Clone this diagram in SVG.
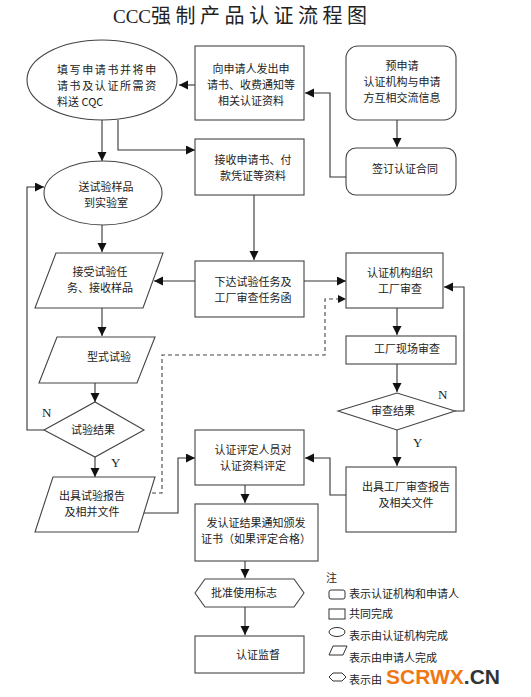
<svg xmlns="http://www.w3.org/2000/svg" width="531" height="697" viewBox="0 0 531 697">
<defs>
<marker id="ah" markerUnits="userSpaceOnUse" markerWidth="10" markerHeight="10" refX="9" refY="4.5" orient="auto">
<path d="M0,0 L9,4.5 L0,9 z" fill="#111"/>
</marker>
<style>
.n{fill:#fff;stroke:#444;stroke-width:1.1}
.t{font-family:"Noto Sans CJK SC","Liberation Sans",sans-serif;font-size:11px;fill:#222;text-anchor:middle}
.tl{font-family:"Noto Sans CJK SC","Liberation Sans",sans-serif;font-size:11px;fill:#222}
.yn{font-family:"Liberation Serif",serif;font-size:13px;fill:#222}
.c{fill:none;stroke:#333;stroke-width:1.1}
.ca{fill:none;stroke:#333;stroke-width:1.1;marker-end:url(#ah)}
.d{fill:none;stroke:#444;stroke-width:1.1;stroke-dasharray:4,3}
.lg{fill:#fff;stroke:#333;stroke-width:1}
</style>
</defs>
<rect width="531" height="697" fill="#fff"/>
<text x="113" y="23" font-family="Liberation Serif,serif" font-size="19" fill="#222">CCC<tspan font-family="Noto Sans CJK SC,sans-serif" font-size="20" letter-spacing="4.5">强制产品认证流程图</tspan></text>

<g id="connectors">
<path class="ca" d="M195,85 L179,85"/>
<path class="ca" d="M397,120 L397,147"/>
<path class="ca" d="M346,177 L330,177 L330,93 L305,93"/>
<path class="ca" d="M102,120 L102,161"/>
<path class="ca" d="M118,120 L118,150 L195,150"/>
<path class="ca" d="M254,195 L254,260"/>
<path class="ca" d="M102,225 L102,252"/>
<path class="ca" d="M195,281 L154,281"/>
<path class="ca" d="M304,281 L346,281"/>
<path class="ca" d="M102,308 L102,336"/>
<path class="ca" d="M95,383 L95,402"/>
<path class="ca" d="M44,430 L27,430 L27,187 L44,187"/>
<path class="ca" d="M95,457 L95,477"/>
<path class="ca" d="M139,513 L178,513 L178,458 L195,458"/>
<path class="d" d="M152,493 L162,493 L162,355 L325,355 L325,299 L338,299"/>
<path d="M338,295 L346,299 L338,303 z" fill="#111"/>
<path class="ca" d="M397,308 L397,335"/>
<path class="ca" d="M397,364 L397,392"/>
<path class="ca" d="M455,411 L464,411 L464,287 L444,287"/>
<path class="ca" d="M397,430 L397,466"/>
<path class="ca" d="M346,495 L330,495 L330,458 L305,458"/>
<path class="ca" d="M245,485 L245,503"/>
<path class="ca" d="M245,561 L245,578"/>
<path class="ca" d="M245,607 L245,635"/>
</g>

<g id="n1"><ellipse class="n" cx="102" cy="80" rx="75" ry="40"/>
<text class="tl" x="57" y="74" letter-spacing="1.6">填写申请书并将申</text>
<text class="tl" x="57" y="90" letter-spacing="1.6">请书及认证所需资</text>
<text class="tl" x="57" y="106">料送 CQC</text></g>

<g id="n2"><rect class="n" x="195" y="46" width="109" height="74"/>
<text class="t" x="251" y="73">向申请人发出申</text>
<text class="t" x="251" y="89">请书、收费通知等</text>
<text class="t" x="251" y="105">相关认证资料</text></g>

<g id="n3"><rect class="n" x="346" y="46" width="110" height="74" rx="12"/>
<text class="t" x="402" y="70">预申请</text>
<text class="t" x="402" y="86">认证机构与申请</text>
<text class="t" x="402" y="102">方互相交流信息</text></g>

<g id="n4"><rect class="n" x="346" y="148" width="110" height="47" rx="10"/>
<text class="t" x="405" y="173">签订认证合同</text></g>

<g id="n6"><rect class="n" x="195" y="139" width="109" height="56"/>
<text class="t" x="253" y="164">接收申请书、付</text>
<text class="t" x="253" y="180">款凭证等资料</text></g>

<g id="n5"><ellipse class="n" cx="103" cy="193" rx="59" ry="32"/>
<text class="t" x="106" y="191">送试验样品</text>
<text class="t" x="106" y="207">到实验室</text></g>

<g id="n7"><polygon class="n" points="56,253 163,253 143,308 35,308"/>
<text class="t" x="100" y="276">接受试验任</text>
<text class="t" x="100" y="292">务、接收样品</text></g>

<g id="n8"><rect class="n" x="195" y="261" width="109" height="56"/>
<text class="t" x="253" y="286">下达试验任务及</text>
<text class="t" x="253" y="302">工厂审查任务函</text></g>

<g id="n9"><rect class="n" x="346" y="253" width="97" height="55"/>
<text class="t" x="400" y="277">认证机构组织</text>
<text class="t" x="400" y="293">工厂审查</text></g>

<g id="n10"><rect class="n" x="346" y="336" width="110" height="28"/>
<text class="t" x="407" y="353">工厂现场审查</text></g>

<g id="n11"><polygon class="n" points="338,411 397,393 455,411 397,430"/>
<text class="t" x="393" y="415">审查结果</text></g>
<text class="yn" x="438" y="399">N</text>
<text class="yn" x="413" y="447">Y</text>

<g id="n17"><polygon class="n" points="57,337 155,337 137,383 39,383"/>
<text class="t" x="109" y="361">型式试验</text></g>

<g id="n18"><polygon class="n" points="44,430 95,402 144,430 95,457"/>
<text class="t" x="93" y="434">试验结果</text></g>
<text class="yn" x="42" y="417">N</text>
<text class="yn" x="111" y="467">Y</text>

<g id="n19"><polygon class="n" points="53,477 155,477 138,532 35,532"/>
<text class="t" x="92" y="500">出具试验报告</text>
<text class="t" x="92" y="516">及相并文件</text></g>

<g id="n12"><rect class="n" x="195" y="430" width="109" height="55"/>
<text class="t" x="253" y="454">认证评定人员对</text>
<text class="t" x="253" y="470">认证资料评定</text></g>

<g id="n13"><rect class="n" x="346" y="467" width="110" height="65"/>
<text class="t" x="406" y="491">出具工厂审查报告</text>
<text class="t" x="406" y="507">及相关文件</text></g>

<g id="n14"><rect class="n" x="195" y="504" width="123" height="57"/>
<text class="t" x="256" y="527">发认证结果通知颁发</text>
<text class="t" x="256" y="543">证书（如果评定合格）</text></g>

<g id="n15"><polygon class="n" points="195,593 205,579 294,579 304,593 294,607 205,607"/>
<text class="t" x="244" y="597">批准使用标志</text></g>

<g id="n16"><rect class="n" x="195" y="636" width="109" height="37"/>
<text class="t" x="258" y="659">认证监督</text></g>

<g id="legend">
<text class="tl" x="326" y="582" font-size="13">注</text>
<rect class="lg" x="329" y="590" width="16" height="9" rx="2"/>
<text class="tl" x="349" y="598">表示认证机构和申请人</text>
<rect class="lg" x="329" y="609" width="16" height="10"/>
<text class="tl" x="349" y="618">共同完成</text>
<ellipse class="lg" cx="337" cy="632" rx="8" ry="4.5"/>
<text class="tl" x="349" y="640">表示由认证机构完成</text>
<polygon class="lg" points="333,646 347,646 343,655 329,655"/>
<text class="tl" x="349" y="662">表示由申请人完成</text>
<polygon class="lg" points="329,677 333,673 342,673 346,677 342,681 333,681"/>
<text class="tl" x="349" y="684">表示由</text>
</g>
<text x="386" y="684" font-family="Liberation Sans,Arial,sans-serif" font-size="21" font-weight="bold" fill="#f07814">SCRWX<tspan fill="#333">.CN</tspan></text>
</svg>
